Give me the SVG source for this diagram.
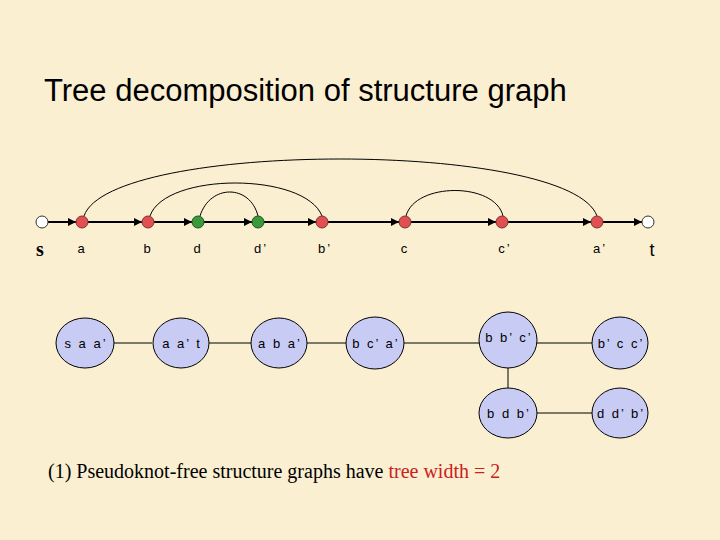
<svg xmlns="http://www.w3.org/2000/svg" width="720" height="540" viewBox="0 0 720 540">
<defs>
<marker id="ar" viewBox="0 0 10 10" refX="10" refY="5" markerWidth="4" markerHeight="4" orient="auto"><path d="M0,0L10,5L0,10z" fill="#000"/></marker>
<style>
.l{font-family:"Liberation Sans",Arial,sans-serif;font-size:13px;fill:#000;text-anchor:middle;letter-spacing:2px}
.r{fill:#e05050;stroke:#803030;stroke-width:1}
.g{fill:#3a9a3a;stroke:#205020;stroke-width:1}
.w{fill:#fff;stroke:#333;stroke-width:1}
.e{fill:#c8ccf4;stroke:#000;stroke-width:1}
.ln{stroke:#000;stroke-width:2;fill:none;marker-end:url(#ar)}
.arc{stroke:#000;stroke-width:1;fill:none}
.t{stroke:#000;stroke-width:1}
</style>
</defs>
<rect width="720" height="540" fill="#fbefd2"/>
<text x="44" y="101" font-family="Liberation Sans,Arial,sans-serif" font-size="31">Tree decomposition of structure graph</text>
<g id="connectors">
<line class="ln" x1="48" y1="222" x2="76" y2="222"/>
<line class="ln" x1="88" y1="222" x2="142" y2="222"/>
<line class="ln" x1="154" y1="222" x2="192" y2="222"/>
<line class="ln" x1="204" y1="222" x2="252" y2="222"/>
<line class="ln" x1="264" y1="222" x2="316" y2="222"/>
<line class="ln" x1="328" y1="222" x2="399" y2="222"/>
<line class="ln" x1="411" y1="222" x2="496" y2="222"/>
<line class="ln" x1="508" y1="222" x2="591" y2="222"/>
<line class="ln" x1="603" y1="222" x2="642" y2="222"/>
<path class="arc" d="M84,216 C110,140 570,140 597,216"/>
<path class="arc" d="M150,216 C165,172 305,172 322,216"/>
<path class="arc" d="M200,216 C210,184 250,184 258,216"/>
<path class="arc" d="M406,216 C415,182 495,182 503,216"/>
<line class="t" x1="113" y1="343" x2="152" y2="343"/>
<line class="t" x1="209" y1="343" x2="251" y2="343"/>
<line class="t" x1="307" y1="343" x2="347" y2="343"/>
<line class="t" x1="404" y1="343" x2="480" y2="343"/>
<line class="t" x1="536" y1="343" x2="593" y2="343"/>
<line class="t" x1="508" y1="368" x2="508" y2="390"/>
<line class="t" x1="536" y1="413" x2="593" y2="413"/>
</g>
<g id="s"><circle class="w" cx="42" cy="222" r="6"/><text x="36" y="256" font-family="Liberation Serif,serif" font-size="20" font-weight="bold">s</text></g>
<g id="a"><circle class="r" cx="82" cy="222" r="6"/><text class="l" x="82" y="253">a</text></g>
<g id="b"><circle class="r" cx="148" cy="222" r="6"/><text class="l" x="148" y="253">b</text></g>
<g id="d"><circle class="g" cx="198" cy="222" r="6"/><text class="l" x="198" y="253">d</text></g>
<g id="d2"><circle class="g" cx="258" cy="222" r="6"/><text class="l" x="261" y="253">d’</text></g>
<g id="b2"><circle class="r" cx="322" cy="222" r="6"/><text class="l" x="325" y="253">b’</text></g>
<g id="c"><circle class="r" cx="405" cy="222" r="6"/><text class="l" x="405" y="253">c</text></g>
<g id="c2"><circle class="r" cx="502" cy="222" r="6"/><text class="l" x="505" y="253">c’</text></g>
<g id="a2"><circle class="r" cx="597" cy="222" r="6"/><text class="l" x="600" y="253">a’</text></g>
<g id="t"><circle class="w" cx="648" cy="222" r="6"/><text x="652" y="256" font-family="Liberation Sans,Arial,sans-serif" font-size="18" text-anchor="middle">t</text></g>
<g id="n1"><ellipse class="e" cx="85" cy="343" rx="29" ry="25"/><text class="l" x="86" y="348">s a a’</text></g>
<g id="n2"><ellipse class="e" cx="181" cy="343" rx="28" ry="25"/><text class="l" x="182" y="348">a a’ t</text></g>
<g id="n3"><ellipse class="e" cx="279" cy="343" rx="28" ry="25"/><text class="l" x="280" y="348">a b a’</text></g>
<g id="n4"><ellipse class="e" cx="375" cy="343" rx="29" ry="26"/><text class="l" x="376" y="348">b c’ a’</text></g>
<g id="n5"><ellipse class="e" cx="508" cy="340" rx="29" ry="28"/><text class="l" x="509" y="342">b b’ c’</text></g>
<g id="n6"><ellipse class="e" cx="620" cy="343" rx="28" ry="26"/><text class="l" x="621" y="348">b’ c c’</text></g>
<g id="n7"><ellipse class="e" cx="508" cy="413" rx="29" ry="25"/><text class="l" x="509" y="418">b d b’</text></g>
<g id="n8"><ellipse class="e" cx="620" cy="413" rx="28" ry="25"/><text class="l" x="621" y="418">d d’ b’</text></g>
<text x="48" y="478" font-family="Liberation Serif,serif" font-size="20">(1) Pseudoknot-free structure graphs have <tspan fill="#cc2020">tree width = 2</tspan></text>
</svg>
